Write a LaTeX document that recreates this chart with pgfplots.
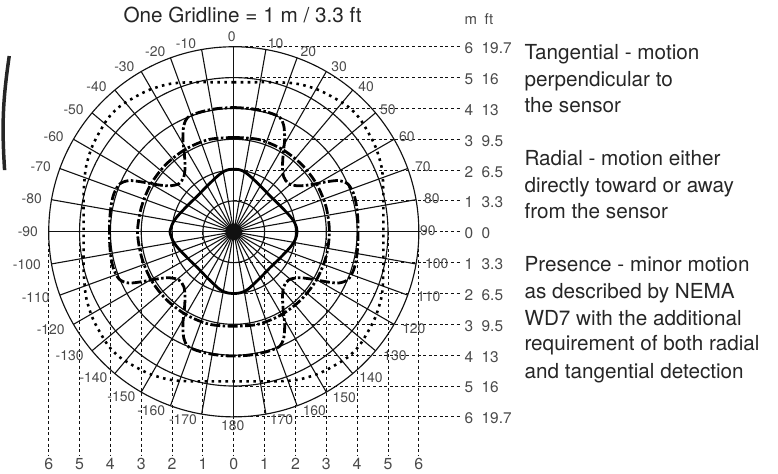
\documentclass[border=0pt]{standalone}
\usepackage{pgfplots}
\pgfplotsset{compat=1.18}
\usepackage{fontspec}
\setmainfont{TeX Gyre Heros}
\definecolor{txt}{HTML}{262626}
\definecolor{lab}{HTML}{4A4A4A}
\definecolor{gridc}{HTML}{111111}
\begin{document}
\begin{tikzpicture}
\begin{axis}[x=31pt,y=31pt,xmin=-7.452,xmax=17.645,ymin=-7.839,ymax=7.516,
  hide axis,clip=false,/pgf/number format/assume math mode=true]
\path (rel axis cs:0,0) rectangle (rel axis cs:1,1);
% polar grid
\pgfplotsinvokeforeach{1,2,3,4,5,6}{\draw[gridc,line width=1.15pt] (axis cs:0,0) circle[radius=#1];}
\pgfplotsinvokeforeach{0,10,...,350}{\draw[gridc,line width=1.1pt] (axis cs:0,0) -- (axis cs:{6*cos(#1)},{6*sin(#1)});}
\fill[gridc] (axis cs:0,0) circle[radius=0.27];
% dashed reference lines
\pgfplotsinvokeforeach{-6,...,6}{
  \draw[gridc,line width=0.95pt,dash pattern=on 3pt off 2.6pt] (axis cs:0,#1) -- (axis cs:7.32,#1);
  \draw[gridc,line width=0.95pt,dash pattern=on 3pt off 2.6pt] (axis cs:#1,0) -- (axis cs:#1,-7.23);}
% left edge artifact
\draw[black!85,line width=3.5pt] (axis cs:-7.28,5.7) to[bend right=6] (axis cs:-7.43,2.0);
% Presence (solid)
\addplot[black,line width=2.8pt,smooth,tension=0.5] coordinates {
(0,2.03) (0.15,2.02) (0.3,1.97) (0.45,1.87) (0.6,1.74) (0.9,1.45) (1.17,1.17) (1.45,0.9) (1.74,0.6) (1.87,0.45) (1.97,0.3) (2.03,0.15) (2.05,0)
(2.03,-0.15) (1.97,-0.3) (1.87,-0.45) (1.74,-0.6) (1.45,-0.9) (1.17,-1.17) (0.9,-1.45) (0.6,-1.74) (0.45,-1.87) (0.3,-1.95) (0.15,-1.99) (0,-2.0)
(-0.15,-1.99) (-0.3,-1.95) (-0.45,-1.87) (-0.6,-1.74) (-0.9,-1.45) (-1.17,-1.17) (-1.45,-0.9) (-1.74,-0.6) (-1.87,-0.45) (-1.97,-0.3) (-2.03,-0.15) (-2.07,0)
(-2.03,0.15) (-1.97,0.3) (-1.87,0.45) (-1.74,0.6) (-1.45,0.9) (-1.17,1.17) (-0.9,1.45) (-0.6,1.74) (-0.45,1.87) (-0.3,1.97) (-0.15,2.02) (0,2.03)
};
% Radial (inner dash-dot)
\addplot[black,line width=2.8pt,smooth,dash pattern=on 10pt off 2.5pt on 2.5pt off 2.5pt] coordinates {
(0,3.06) (0.802,2.994) (1.55,2.685) (2.192,2.192) (2.685,1.55) (2.994,0.802) (3.1,0)
(2.994,-0.802) (2.685,-1.55) (2.192,-2.192) (1.55,-2.685) (0.802,-2.994) (0,-3.06)
(-0.802,-2.994) (-1.55,-2.685) (-2.192,-2.192) (-2.685,-1.55) (-2.994,-0.802) (-3.12,0)
(-2.994,0.802) (-2.685,1.55) (-2.192,2.192) (-1.55,2.685) (-0.802,2.994) (0,3.06)
};
% outer dash-dot with notches
\addplot[black,line width=2.8pt,smooth,dash pattern=on 10pt off 2.5pt on 2.5pt off 2.5pt] coordinates {
(0,4.03) (0.5,4.0) (0.9,3.93) (1.25,3.83) (1.5,3.7) (1.62,3.45) (1.65,3.0) (1.6,2.5) (1.58,2.1) (1.62,1.78) (1.78,1.56) (2.1,1.49) (2.5,1.53) (3.0,1.62) (3.4,1.66) (3.7,1.55) (3.88,1.25) (3.97,0.9) (4.02,0.45) (4.03,0)
(4.02,-0.45) (3.97,-0.9) (3.88,-1.25) (3.7,-1.55) (3.4,-1.66) (3.0,-1.62) (2.5,-1.53) (2.1,-1.49) (1.78,-1.56) (1.62,-1.78) (1.58,-2.1) (1.6,-2.5) (1.65,-3.0) (1.62,-3.45) (1.5,-3.7) (1.25,-3.83) (0.9,-3.93) (0.5,-4.0) (0,-4.03)
(-0.5,-4.0) (-0.9,-3.93) (-1.25,-3.83) (-1.5,-3.7) (-1.62,-3.45) (-1.65,-3.0) (-1.6,-2.5) (-1.58,-2.1) (-1.62,-1.78) (-1.78,-1.56) (-2.1,-1.49) (-2.5,-1.53) (-3.0,-1.62) (-3.4,-1.66) (-3.7,-1.55) (-3.88,-1.25) (-3.97,-0.9) (-4.02,-0.45) (-4.03,0)
(-4.02,0.45) (-3.97,0.9) (-3.88,1.25) (-3.7,1.55) (-3.4,1.66) (-3.0,1.62) (-2.5,1.53) (-2.1,1.49) (-1.78,1.56) (-1.62,1.78) (-1.58,2.1) (-1.6,2.5) (-1.65,3.0) (-1.62,3.45) (-1.5,3.7) (-1.25,3.83) (-0.9,3.93) (-0.5,4.0) (0,4.03)
};
% dotted outer
\addplot[black,line width=2.6pt,smooth,dash pattern=on 2.6pt off 4.4pt] coordinates {
(0,4.85) (0.6,4.85) (1.2,4.85) (1.8,4.83) (2.2,4.77) (2.72,4.61) (3.15,4.4) (3.69,4.07) (4.07,3.69) (4.4,3.15) (4.61,2.72) (4.77,2.2) (4.83,1.8) (4.85,1.2) (4.85,0.6) (4.85,0)
(4.85,-0.6) (4.85,-1.2) (4.83,-1.8) (4.77,-2.2) (4.61,-2.72) (4.4,-3.15) (4.07,-3.69) (3.69,-4.07) (3.15,-4.4) (2.72,-4.61) (2.2,-4.77) (1.8,-4.83) (1.2,-4.85) (0.6,-4.85) (0,-4.85)
(-0.6,-4.85) (-1.2,-4.85) (-1.8,-4.83) (-2.2,-4.77) (-2.72,-4.61) (-3.15,-4.4) (-3.69,-4.07) (-4.07,-3.69) (-4.4,-3.15) (-4.61,-2.72) (-4.77,-2.2) (-4.83,-1.8) (-4.87,-1.2) (-4.87,-0.6) (-4.87,0)
(-4.87,0.6) (-4.87,1.2) (-4.83,1.8) (-4.77,2.2) (-4.61,2.72) (-4.4,3.15) (-4.07,3.69) (-3.69,4.07) (-3.15,4.4) (-2.72,4.61) (-2.2,4.77) (-1.8,4.83) (-1.2,4.85) (-0.6,4.85) (0,4.85)
};
% angle labels
\addplot[draw=none,mark=none,nodes near coords,point meta=explicit symbolic,
  every node near coord/.append style={anchor=center,inner sep=0pt,font=\fontsize{14}{14}\selectfont,text=lab}]
  table[meta=l,row sep=\\]{
x y l\\
-0.065 6.323 0\\
1.355 6.097 10\\
2.419 5.839 20\\
3.419 5.355 30\\
4.290 4.710 40\\
5.000 3.968 50\\
5.613 3.097 60\\
6.129 2.097 70\\
6.419 1.065 80\\
6.290 0.032 90\\
6.581 -1.032 100\\
6.323 -2.097 110\\
5.839 -3.129 120\\
5.226 -4.000 130\\
4.452 -4.742 140\\
3.581 -5.387 150\\
2.613 -5.806 160\\
1.548 -6.097 170\\
-0.032 -6.290 180\\
-1.548 6.097 -10\\
-2.548 5.839 -20\\
-3.548 5.355 -30\\
-4.452 4.710 -40\\
-5.194 3.968 -50\\
-5.839 3.097 -60\\
-6.258 2.097 -70\\
-6.548 1.065 -80\\
-6.677 0.000 -90\\
-6.710 -1.065 -100\\
-6.419 -2.129 -110\\
-5.935 -3.161 -120\\
-5.323 -4.000 -130\\
-4.548 -4.742 -140\\
-3.645 -5.355 -150\\
-2.677 -5.806 -160\\
-1.645 -6.097 -170\\
};
% right scale labels
\node[anchor=base west,inner sep=0pt,font=\fontsize{15}{15}\selectfont,text=lab] at (axis cs:7.48,6.71) {m};
\node[anchor=base west,inner sep=0pt,font=\fontsize{15}{15}\selectfont,text=lab] at (axis cs:8.13,6.71) {ft};
\addplot[draw=none,mark=none,nodes near coords,point meta=explicit symbolic,
  every node near coord/.append style={anchor=west,inner sep=0pt,font=\fontsize{15.5}{15.5}\selectfont,text=lab}]
  table[meta=l,row sep=\\]{
x y l\\
7.48 5.95 6\\
7.48 4.95 5\\
7.48 3.95 4\\
7.48 2.95 3\\
7.48 1.95 2\\
7.48 0.95 1\\
7.48 -0.05 0\\
7.48 -1.05 1\\
7.48 -2.05 2\\
7.48 -3.05 3\\
7.48 -4.05 4\\
7.48 -5.05 5\\
7.48 -6.05 6\\
};
\addplot[draw=none,mark=none,nodes near coords,point meta=explicit symbolic,
  every node near coord/.append style={anchor=west,inner sep=0pt,font=\fontsize{15.5}{15.5}\selectfont,text=lab}]
  table[meta=l,row sep=\\]{
x y l\\
8.03 5.95 19.7\\
8.03 4.95 16\\
8.03 3.95 13\\
8.03 2.95 9.5\\
8.03 1.95 6.5\\
8.03 0.95 3.3\\
8.03 -0.05 0\\
8.03 -1.05 3.3\\
8.03 -2.05 6.5\\
8.03 -3.05 9.5\\
8.03 -4.05 13\\
8.03 -5.05 16\\
8.03 -6.05 19.7\\
};
% bottom scale labels
\addplot[draw=none,mark=none,nodes near coords,point meta=explicit symbolic,
  every node near coord/.append style={anchor=center,inner sep=0pt,font=\fontsize{16}{16}\selectfont,text=lab}]
  table[meta=l,row sep=\\]{
x y l\\
-6 -7.52 6\\
-5 -7.52 5\\
-4 -7.52 4\\
-3 -7.52 3\\
-2 -7.52 2\\
-1 -7.52 1\\
0 -7.52 0\\
1 -7.52 1\\
2 -7.52 2\\
3 -7.52 3\\
4 -7.52 4\\
5 -7.52 5\\
6 -7.52 6\\
};
% title
\node[anchor=base west,inner sep=0pt,font=\fontsize{20.8}{20.8}\selectfont,text=txt] at (axis cs:-3.581,6.774) {One Gridline = 1 m / 3.3 ft};
% description
\node[anchor=base west,inner sep=0pt,font=\fontsize{20.8}{20.8}\selectfont,text=txt] at (axis cs:9.42,5.581) {Tangential - motion};
\node[anchor=base west,inner sep=0pt,font=\fontsize{20.8}{20.8}\selectfont,text=txt] at (axis cs:9.42,4.700) {perpendicular to};
\node[anchor=base west,inner sep=0pt,font=\fontsize{20.8}{20.8}\selectfont,text=txt] at (axis cs:9.42,3.861) {the sensor};
\node[anchor=base west,inner sep=0pt,font=\fontsize{20.8}{20.8}\selectfont,text=txt] at (axis cs:9.42,2.139) {Radial - motion either};
\node[anchor=base west,inner sep=0pt,font=\fontsize{20.8}{20.8}\selectfont,text=txt] at (axis cs:9.42,1.281) {directly toward or away};
\node[anchor=base west,inner sep=0pt,font=\fontsize{20.8}{20.8}\selectfont,text=txt] at (axis cs:9.42,0.419) {from the sensor};
\node[anchor=base west,inner sep=0pt,font=\fontsize{20.8}{20.8}\selectfont,text=txt] at (axis cs:9.42,-1.300) {Presence - minor motion};
\node[anchor=base west,inner sep=0pt,font=\fontsize{20.8}{20.8}\selectfont,text=txt] at (axis cs:9.42,-2.161) {as described by NEMA};
\node[anchor=base west,inner sep=0pt,font=\fontsize{20.8}{20.8}\selectfont,text=txt] at (axis cs:9.42,-3.023) {WD7 with the additional};
\node[anchor=base west,inner sep=0pt,font=\fontsize{20.8}{20.8}\selectfont,text=txt] at (axis cs:9.42,-3.861) {requirement of both radial};
\node[anchor=base west,inner sep=0pt,font=\fontsize{20.8}{20.8}\selectfont,text=txt] at (axis cs:9.42,-4.742) {and tangential detection};
\end{axis}
\end{tikzpicture}
\end{document}
